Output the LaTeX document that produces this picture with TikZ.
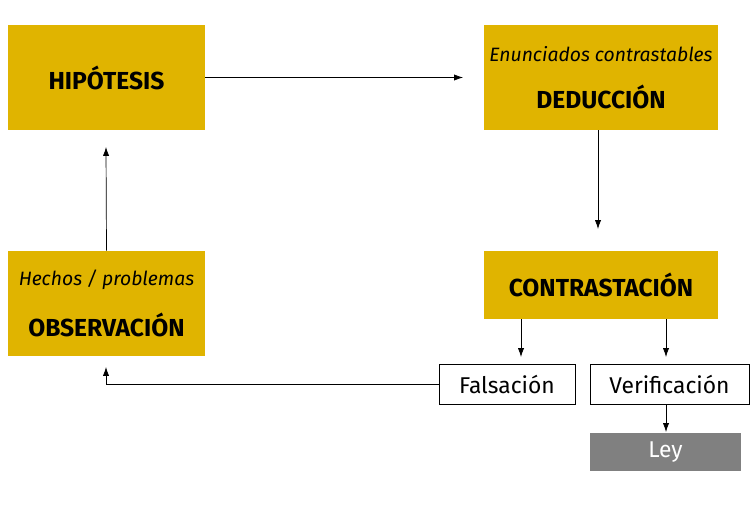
\documentclass[tikz,border=0pt]{standalone}
\usepackage{fontspec}
\setmainfont{Fira Sans}
\usetikzlibrary{positioning,arrows.meta}
\definecolor{oro}{HTML}{E0B400}
\definecolor{gris}{HTML}{808080}
\tikzset{
  etapa/.style={fill=oro, minimum height=2.1cm, align=center, inner sep=0pt},
  caja/.style={draw, fill=white, minimum height=0.8cm, font=\fontsize{13}{15}\selectfont, inner sep=0pt},
  flecha/.style={-{Latex[length=5pt,width=3.5pt]}, thin}
}
\begin{document}
\begin{tikzpicture}[x=0.02cm,y=-0.02cm]
	\useasboundingbox (0,0) rectangle (750,504);
	% etapas del metodo
	\node[etapa, minimum width=3.94cm] (hip) at (106.5,77.5) {\fontsize{14}{16}\selectfont\bfseries HIPÓTESIS};
	\node[etapa, minimum width=4.68cm] (ded) at (601,77.5) {\fontsize{11}{13}\selectfont\itshape Enunciados contrastables\\[12pt]\fontsize{14}{16}\selectfont\bfseries DEDUCCIÓN};
	\node[etapa, minimum width=4.68cm, minimum height=1.36cm] (con) at (601,285) {\fontsize{14}{16}\selectfont\bfseries CONTRASTACIÓN};
	\node[etapa, minimum width=3.94cm] (obs) at (106.5,303.5) {\fontsize{11}{13}\selectfont\itshape Hechos / problemas\\[12pt]\fontsize{14}{16}\selectfont\bfseries OBSERVACIÓN};
	% resultados
	\node[caja, minimum width=2.72cm] (fal) at (507,384) {Falsación};
	\node[caja, minimum width=3.18cm] (ver) at (669.5,384) {Verificación};
	\node[caja, draw=none, fill=gris, text=white, minimum width=3.02cm, minimum height=0.76cm] (ley) at (665.5,452) {Ley};
	% flechas
	\coordinate (hipE) at (463,77.5);
	\coordinate (dedS) at (598,229);
	\draw[flecha] (hip.east) -- (hipE);
	\draw[flecha] (dedS |- ded.south) -- (dedS);
	\draw[flecha] (521,319) -- (521,357);
	\draw[flecha] (666,319) -- (666,357);
	\draw[flecha] (666,404) -- (666,432);
	\draw[flecha] (fal.west) -| (106,367);
	\draw[flecha] (obs.north) -- (106,147);
\end{tikzpicture}
\end{document}
